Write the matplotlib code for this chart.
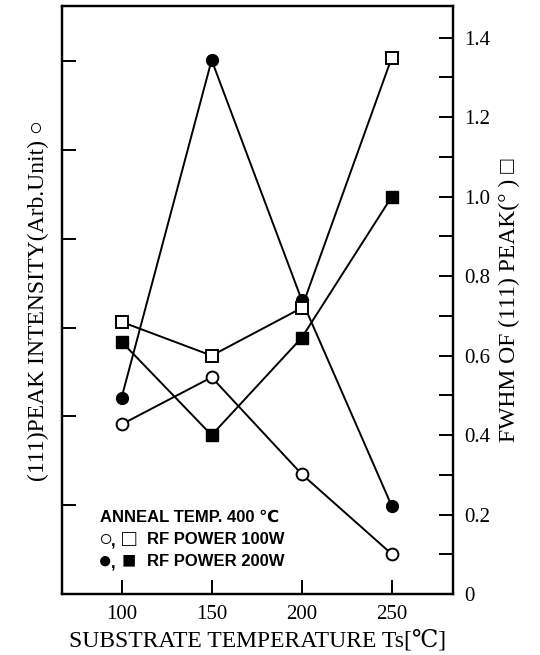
import numpy as np
import matplotlib.pyplot as plt

# substrate temperature (C)
temps = [100, 150, 200, 250]
# (111) peak intensity, arbitrary units -> left axis
int_100w = [1.91, 2.44, 1.35, 0.45]
int_200w = [2.21, 6.01, 3.31, 0.99]
# FWHM of (111) peak, degrees -> right axis
fwhm_100w = [0.685, 0.60, 0.72, 1.35]
fwhm_200w = [0.635, 0.40, 0.645, 1.00]

serif = ['Liberation Serif', 'DejaVu Serif', 'DejaVu Sans']
plt.rcParams['font.family'] = serif

fig = plt.figure(figsize=(5.4, 6.55), dpi=100)
ax = fig.add_axes([0.115, 0.093, 0.724, 0.898])
ax2 = ax.twinx()

lw = 1.4
ms = 8.5
ax.plot(temps, int_100w, '-o', color='k', lw=lw, ms=ms, mfc='white', mec='k', mew=1.4, zorder=3)
ax.plot(temps, int_200w, '-o', color='k', lw=lw, ms=ms, mfc='k', mec='k', zorder=3)
ax2.plot(temps, fwhm_100w, '-s', color='k', lw=lw, ms=ms, mfc='white', mec='k', mew=1.4, zorder=3)
ax2.plot(temps, fwhm_200w, '-s', color='k', lw=lw, ms=ms, mfc='k', mec='k', zorder=3)

ax.set_xlim(67, 284)
ax.set_ylim(0, 6.62)
ax2.set_ylim(0, 1.48)

ax.set_xticks(temps)
ax.set_xticklabels([str(t) for t in temps], fontsize=15)
ax.set_yticks(np.arange(1, 7))
ax.set_yticklabels([])
ax.tick_params(axis='x', direction='in', length=10, width=1.4, pad=8)
ax.tick_params(axis='y', direction='in', length=10, width=1.4)

ax2.set_yticks(np.arange(0, 1.41, 0.2))
ax2.set_yticklabels(['0'] + ['%.1f' % v for v in np.arange(0.2, 1.41, 0.2)], fontsize=15)
ax2.set_yticks(np.arange(0.1, 1.41, 0.2), minor=True)
ax2.tick_params(axis='y', which='both', direction='in', length=10, width=1.4, pad=8)

for a in (ax, ax2):
    for s in a.spines.values():
        s.set_linewidth(1.6)

ax.set_xlabel('SUBSTRATE TEMPERATURE Ts[℃]', fontsize=17, labelpad=4)
ax.set_ylabel('(111)PEAK INTENSITY(Arb.Unit) ○', fontsize=17, labelpad=6)
ax2.set_ylabel('FWHM OF (111) PEAK(° ) □', fontsize=17, labelpad=6, rotation=90)

# annotation block in the lower left corner
sans = ['Liberation Sans', 'DejaVu Sans']
kw = dict(transform=ax.transAxes, fontweight='bold', family=sans, va='center')
ax.text(0.097, 0.130, 'ANNEAL TEMP. 400 ℃', fontsize=12, **kw)
ax.text(0.092, 0.093, '○', fontsize=17, **kw)
ax.text(0.126, 0.088, ',', fontsize=12, **kw)
ax.text(0.152, 0.093, '□', fontsize=17, **kw)
ax.text(0.217, 0.093, 'RF POWER 100W', fontsize=12, **kw)
ax.text(0.092, 0.056, '●', fontsize=17, **kw)
ax.text(0.126, 0.051, ',', fontsize=12, **kw)
ax.text(0.152, 0.056, '■', fontsize=17, **kw)
ax.text(0.217, 0.056, 'RF POWER 200W', fontsize=12, **kw)

fig.savefig('out.png', dpi=100)
